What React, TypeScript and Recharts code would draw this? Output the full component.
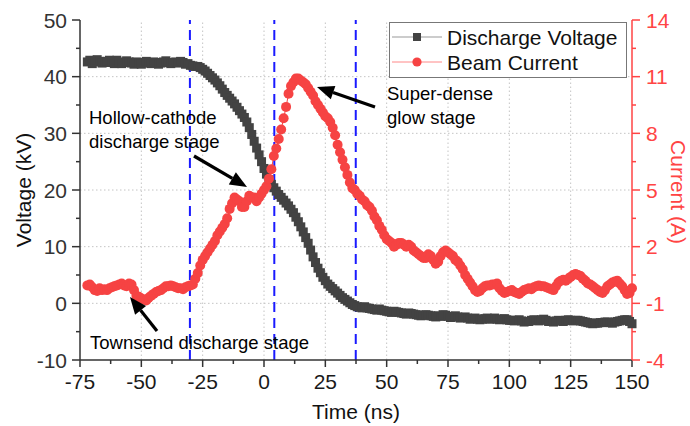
import React from 'react'
import { ComposedChart, Line, XAxis, YAxis, ReferenceLine } from 'recharts'

// Time base (ns), sampled every 1 ns
const time = [
  -72, -71, -70, -69, -68, -67, -66, -65, -64, -63,
  -62, -61, -60, -59, -58, -57, -56, -55, -54, -53,
  -52, -51, -50, -49, -48, -47, -46, -45, -44, -43,
  -42, -41, -40, -39, -38, -37, -36, -35, -34, -33,
  -32, -31, -30, -29, -28, -27, -26, -25, -24, -23,
  -22, -21, -20, -19, -18, -17, -16, -15, -14, -13,
  -12, -11, -10, -9, -8, -7, -6, -5, -4, -3,
  -2, -1, 0, 1, 2, 3, 4, 5, 6, 7,
  8, 9, 10, 11, 12, 13, 14, 15, 16, 17,
  18, 19, 20, 21, 22, 23, 24, 25, 26, 27,
  28, 29, 30, 31, 32, 33, 34, 35, 36, 37,
  38, 39, 40, 41, 42, 43, 44, 45, 46, 47,
  48, 49, 50, 51, 52, 53, 54, 55, 56, 57,
  58, 59, 60, 61, 62, 63, 64, 65, 66, 67,
  68, 69, 70, 71, 72, 73, 74, 75, 76, 77,
  78, 79, 80, 81, 82, 83, 84, 85, 86, 87,
  88, 89, 90, 91, 92, 93, 94, 95, 96, 97,
  98, 99, 100, 101, 102, 103, 104, 105, 106, 107,
  108, 109, 110, 111, 112, 113, 114, 115, 116, 117,
  118, 119, 120, 121, 122, 123, 124, 125, 126, 127,
  128, 129, 130, 131, 132, 133, 134, 135, 136, 137,
  138, 139, 140, 141, 142, 143, 144, 145, 146, 147,
  148, 149, 150,
]

// Discharge voltage (kV)
const voltage = [
  42.6, 42.9, 42.3, 42.6, 43.0, 42.7, 42.4, 42.5, 42.7, 42.9,
  42.5, 42.3, 42.9, 42.6, 42.3, 42.5, 42.8, 42.6, 42.4, 42.2,
  42.6, 42.5, 42.2, 42.4, 42.7, 42.5, 42.3, 42.6, 42.5, 42.2,
  42.4, 42.6, 42.8, 42.5, 42.3, 42.5, 42.6, 42.4, 42.7, 42.5,
  42.2, 42.3, 42.0, 41.9, 41.8, 41.8, 41.6, 41.3, 41.0, 40.6,
  40.2, 39.8, 39.4, 38.9, 38.4, 37.8, 37.2, 36.7, 36.2, 35.7,
  35.2, 34.6, 34.0, 33.4, 32.8, 32.0, 31.0, 29.8, 28.6, 27.4,
  26.2, 25.0, 23.8, 22.8, 21.8, 21.0, 20.4, 19.8, 19.2, 18.7,
  18.2, 17.7, 17.2, 16.6, 16.0, 15.2, 14.4, 13.5, 12.6, 11.6,
  10.6, 9.4, 8.2, 7.2, 6.2, 5.4, 4.6, 4.0, 3.4, 3.0,
  2.6, 2.2, 1.8, 1.4, 1.0, 0.7, 0.4, 0.1, -0.2, -0.4,
  -0.6, -0.7, -0.8, -0.6, -0.8, -0.9, -1.0, -1.1, -1.2, -1.0,
  -1.2, -1.3, -1.4, -1.5, -1.6, -1.4, -1.5, -1.6, -1.7, -1.8,
  -1.9, -1.7, -1.8, -1.9, -2.0, -2.1, -2.2, -2.1, -2.0, -2.1,
  -2.2, -2.3, -2.4, -2.2, -2.3, -2.0, -2.1, -2.3, -2.5, -2.4,
  -2.2, -2.4, -2.6, -2.5, -2.4, -2.6, -2.8, -2.7, -2.6, -2.8,
  -2.9, -2.8, -2.7, -2.6, -2.8, -2.7, -2.6, -2.8, -2.9, -2.8,
  -2.7, -2.9, -3.0, -3.0, -3.1, -3.0, -2.9, -3.1, -3.3, -3.2,
  -3.2, -3.0, -2.9, -3.0, -3.1, -2.9, -2.8, -3.0, -3.2, -3.2,
  -3.3, -3.1, -3.0, -3.1, -3.2, -3.0, -2.9, -3.0, -3.1, -3.0,
  -3.0, -3.1, -3.2, -3.3, -3.4, -3.5, -3.6, -3.5, -3.5, -3.4,
  -3.4, -3.3, -3.3, -3.4, -3.5, -3.3, -3.2, -3.1, -3.0, -2.9,
  -2.9, -3.2, -3.6,
]

// Beam current (A)
const current = [
  -0.05, 0.0, -0.15, -0.3, -0.35, -0.2, -0.3, -0.25, -0.3, -0.2,
  -0.15, -0.1, -0.05, 0.0, 0.05, -0.05, -0.1, 0.05, 0.0, -0.3,
  -0.6, -0.65, -0.75, -0.8, -0.85, -0.7, -0.6, -0.5, -0.4, -0.35,
  -0.3, -0.2, -0.1, -0.1, -0.05, -0.1, -0.15, -0.2, -0.2, -0.25,
  -0.15, -0.1, -0.05, 0.0, 0.3, 0.6, 1.0, 1.3, 1.5, 1.7,
  1.9, 2.1, 2.3, 2.6, 2.8, 3.0, 3.2, 3.5, 4.0, 4.3,
  4.6, 4.5, 4.4, 4.1, 4.1, 4.4, 4.7, 4.6, 4.6, 4.4,
  4.6, 4.8, 5.0, 5.2, 5.6, 6.1, 6.8, 7.2, 7.7, 8.2,
  8.8, 9.4, 10.1, 10.5, 10.7, 10.9, 10.9, 10.8, 10.7, 10.6,
  10.4, 10.2, 10.0, 9.7, 9.5, 9.3, 9.1, 8.9, 8.8, 8.6,
  8.3, 7.9, 7.4, 7.0, 6.6, 6.2, 5.8, 5.4, 5.1, 5.0,
  4.8, 4.7, 4.5, 4.4, 4.2, 4.1, 3.9, 3.6, 3.4, 3.1,
  2.9, 2.6, 2.4, 2.3, 2.2, 2.0, 2.1, 2.2, 2.2, 2.1,
  2.0, 2.1, 2.0, 1.8, 1.7, 1.6, 1.5, 1.4, 1.4, 1.6,
  1.5, 1.3, 1.1, 1.2, 1.5, 1.7, 1.8, 1.7, 1.6, 1.5,
  1.3, 1.2, 1.0, 0.8, 0.5, 0.3, 0.1, -0.1, -0.3, -0.4,
  -0.35, -0.2, -0.1, -0.05, -0.05, 0.0, 0.0, 0.05, -0.2, -0.35,
  -0.45, -0.4, -0.35, -0.3, -0.4, -0.45, -0.5, -0.4, -0.3, -0.25,
  -0.2, -0.25, -0.15, -0.1, -0.05, -0.1, -0.1, -0.15, -0.2, -0.25,
  -0.3, -0.1, 0.1, 0.2, 0.25, 0.2, 0.3, 0.4, 0.5, 0.55,
  0.5, 0.45, 0.3, 0.2, 0.05, 0.0, -0.1, -0.2, -0.3, -0.4,
  -0.45, -0.3, -0.1, 0.0, 0.1, 0.15, 0.2, 0.05, -0.1, -0.3,
  -0.5, -0.45, -0.2,
]

const timeTicks = [-75, -50, -25, 0, 25, 50, 75, 100, 125, 150]
const voltageTicks = [-10, 0, 10, 20, 30, 40, 50]
const currentTicks = [-4, -1, 2, 5, 8, 11, 14]

// boundaries between discharge stages (ns)
const stageBoundaries = [-30.2, 4.2, 37.4]

const FONT = 'Arial, "Liberation Sans", sans-serif'
const GRAY = '#434343'
const RED = '#f64343'
const AXIS_RED = '#ff4444'

const withMinor = (ticks: number[]) => {
  const out: number[] = []
  ticks.forEach((t, i) => {
    out.push(t)
    if (i < ticks.length - 1) out.push((t + ticks[i + 1]) / 2)
  })
  return out
}

const data = time.map((t, i) => ({ t, voltage: voltage[i], current: current[i] }))

const XTick = ({ x, y, payload }: any) => {
  const major = timeTicks.includes(payload.value)
  return (
    <g>
      <line x1={x} x2={x} y1={y} y2={y + (major ? 7 : 4)} stroke="#333" strokeWidth={1.5} />
      {major && (
        <text x={x} y={y + 29} textAnchor="middle" fontSize={21} fill="#1a1a1a" fontFamily={FONT}>
          {payload.value}
        </text>
      )}
    </g>
  )
}

const LeftTick = ({ x, y, payload }: any) => {
  const major = voltageTicks.includes(payload.value)
  return (
    <g>
      <line x1={x - (major ? 8 : 4)} x2={x} y1={y} y2={y} stroke="#333" strokeWidth={1.5} />
      {major && (
        <text x={x - 13} y={y + 7.5} textAnchor="end" fontSize={21} fill="#333" fontFamily={FONT}>
          {payload.value}
        </text>
      )}
    </g>
  )
}

const RightTick = ({ x, y, payload }: any) => {
  const major = currentTicks.includes(payload.value)
  return (
    <g>
      <line x1={x} x2={x + (major ? 8 : 4)} y1={y} y2={y} stroke={AXIS_RED} strokeWidth={1.5} />
      {major && (
        <text x={x + 14} y={y + 7.5} textAnchor="start" fontSize={21} fill={AXIS_RED} fontFamily={FONT}>
          {payload.value}
        </text>
      )}
    </g>
  )
}

const SquareDot = (p: any) => (
  <rect key={`v${p.index}`} x={p.cx - 4.5} y={p.cy - 4.5} width={9} height={9} fill={GRAY} />
)
const CircleDot = (p: any) => (
  <circle key={`c${p.index}`} cx={p.cx} cy={p.cy} r={5} fill={RED} />
)

const Arrow = ({ x1, y1, x2, y2 }: { x1: number; y1: number; x2: number; y2: number }) => {
  const a = Math.atan2(y2 - y1, x2 - x1)
  const len = 17
  const w = 7
  const bx = x2 - len * Math.cos(a)
  const by = y2 - len * Math.sin(a)
  const px = -Math.sin(a) * w
  const py = Math.cos(a) * w
  return (
    <g>
      <line x1={x1} y1={y1} x2={bx} y2={by} stroke="#000" strokeWidth={3.2} />
      <polygon points={`${x2},${y2} ${bx + px},${by + py} ${bx - px},${by - py}`} fill="#000" />
    </g>
  )
}

export default function App() {
  return (
    <div style={{ position: 'absolute', left: 0, top: 0, width: 690, height: 426, background: '#fff', fontFamily: FONT }}>
      <ComposedChart width={690} height={426} data={data} margin={{ top: 20, right: 0, bottom: 0, left: 0 }}>
        <XAxis
          dataKey="t"
          type="number"
          domain={[-75, 150]}
          ticks={withMinor(timeTicks)}
          interval={0}
          tickSize={0}
          tickMargin={0}
          tickLine={false}
          tick={(p: any) => <XTick {...p} />}
          height={66}
          axisLine={{ stroke: '#333', strokeWidth: 1.5 }}
        />
        <YAxis
          yAxisId="left"
          domain={[-10, 50]}
          ticks={withMinor(voltageTicks)}
          interval={0}
          tickSize={0}
          tickMargin={0}
          tickLine={false}
          tick={(p: any) => <LeftTick {...p} />}
          width={80}
          axisLine={{ stroke: '#333', strokeWidth: 1.5 }}
        />
        <YAxis
          yAxisId="right"
          orientation="right"
          domain={[-4, 14]}
          ticks={withMinor(currentTicks)}
          interval={0}
          tickSize={0}
          tickMargin={0}
          tickLine={false}
          tick={(p: any) => <RightTick {...p} />}
          width={58}
          axisLine={{ stroke: AXIS_RED, strokeWidth: 1.5 }}
        />
        {timeTicks.slice(1, -1).map(t => (
          <ReferenceLine key={`gx${t}`} yAxisId="left" x={t} stroke="#c4c4c4" strokeDasharray="1.5 2.5" />
        ))}
        {voltageTicks.slice(1, -1).map(v => (
          <ReferenceLine key={`gy${v}`} yAxisId="left" y={v} stroke="#c4c4c4" strokeDasharray="1.5 2.5" />
        ))}
        <Line
          yAxisId="left"
          dataKey="voltage"
          type="linear"
          stroke={GRAY}
          strokeWidth={1}
          dot={SquareDot}
          activeDot={false}
          isAnimationActive={false}
        />
        <Line
          yAxisId="right"
          dataKey="current"
          type="linear"
          stroke={RED}
          strokeWidth={1}
          dot={CircleDot}
          activeDot={false}
          isAnimationActive={false}
        />
        {stageBoundaries.map(b => (
          <ReferenceLine key={`sb${b}`} yAxisId="left" x={b} stroke="#1a1aff" strokeWidth={2} strokeDasharray="10 6" />
        ))}
      </ComposedChart>

      <svg
        width={690}
        height={426}
        style={{ position: 'absolute', left: 0, top: 0, pointerEvents: 'none' }}
        fontFamily={FONT}
      >
        {/* axis titles */}
        <text x={0} y={0} transform="translate(31,190) rotate(-90)" textAnchor="middle" fontSize={21} fill="#111">
          Voltage (kV)
        </text>
        <text x={356} y={419} textAnchor="middle" fontSize={21} fill="#111">
          Time (ns)
        </text>
        <text x={0} y={0} transform="translate(671,192) rotate(90)" textAnchor="middle" fontSize={21} fill={AXIS_RED}>
          Current (A)
        </text>

        {/* legend */}
        <rect x={389.5} y={22.5} width={237} height={55} fill="#fff" stroke="#777" strokeWidth={1} />
        <line x1={392} x2={442} y1={37} y2={37} stroke="#999" strokeWidth={1} />
        <rect x={413} y={33} width={8} height={8} fill={GRAY} />
        <text x={447} y={44.5} fontSize={21} fill="#111">Discharge Voltage</text>
        <line x1={392} x2={442} y1={62} y2={62} stroke="#f88" strokeWidth={1} />
        <circle cx={417} cy={62} r={4.6} fill={RED} />
        <text x={447} y={69.5} fontSize={21} fill="#111">Beam Current</text>

        {/* annotations */}
        <text x={89} y={123.5} fontSize={18.5} fill="#000">Hollow-cathode</text>
        <text x={89} y={147.5} fontSize={18.5} fill="#000">discharge stage</text>
        <Arrow x1={194} y1={156} x2={247} y2={187} />

        <text x={387} y={100} fontSize={18.5} fill="#000">Super-dense</text>
        <text x={387} y={124} fontSize={18.5} fill="#000">glow stage</text>
        <Arrow x1={375} y1={107} x2={317} y2={87} />

        <text x={90} y={349} fontSize={18.5} fill="#000">Townsend discharge stage</text>
        <Arrow x1={157} y1={331} x2={130} y2={297} />
      </svg>
    </div>
  )
}
